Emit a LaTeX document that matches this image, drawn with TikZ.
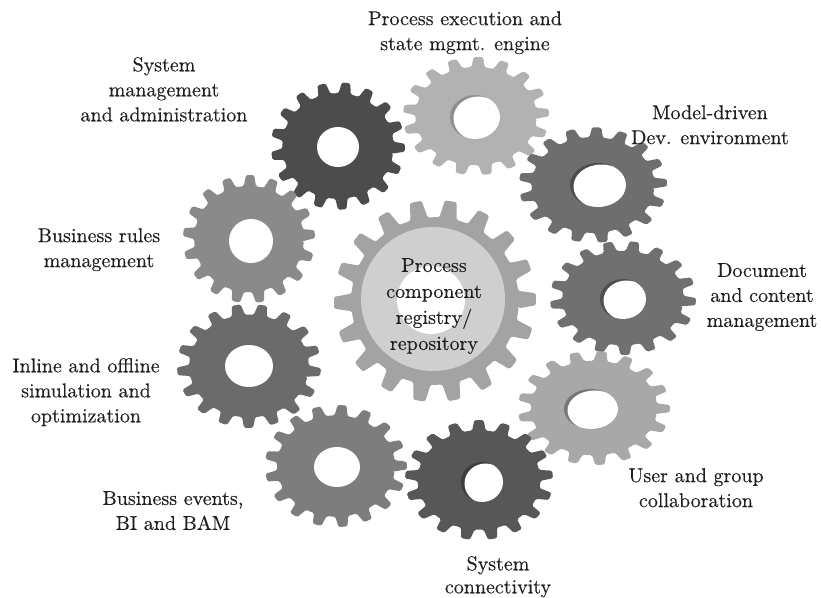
\documentclass[tikz,border=0pt]{standalone}
\usepackage{fontspec}
\newfontfamily\lblfont{lmroman10-regular.otf}[FakeBold=0.3]
\begin{document}
\definecolor{cCenter}{gray}{0.64}
\definecolor{cRing}{gray}{0.81}
\definecolor{cTop}{gray}{0.70}
\definecolor{cAdmin}{gray}{0.30}
\definecolor{cRules}{gray}{0.54}
\definecolor{cInline}{gray}{0.42}
\definecolor{cEvents}{gray}{0.49}
\definecolor{cConnect}{gray}{0.34}
\definecolor{cUser}{gray}{0.66}
\definecolor{cDoc}{gray}{0.44}
\definecolor{cModel}{gray}{0.43}
% gear outline: #1 cx, #2 cy, #3 tip radius, #4 vertical ratio, #5 teeth, #6 phase, #7 colour
\newcommand{\cogwheel}[7]{%
  \begin{scope}[shift={(#1,#2)}, yscale=#4]
    \pgfmathsetmacro{\cogP}{360/#5}
    \pgfmathsetmacro{\cogR}{0.83*#3}
    \fill[#7, rounded corners=1.5pt] (#6:\cogR)
      \foreach \k in {1,...,#5} {
        -- ({#6+(\k-1)*\cogP+0.20*\cogP}:\cogR)
        -- ({#6+(\k-1)*\cogP+0.40*\cogP}:\cogR)
        -- ({#6+(\k-1)*\cogP+0.53*\cogP}:#3)
        -- ({#6+(\k-1)*\cogP+0.70*\cogP}:#3)
        -- ({#6+(\k-1)*\cogP+0.87*\cogP}:#3)
        -- ({#6+\k*\cogP}:\cogR)
      } -- cycle;
  \end{scope}}
% flat hole: #1 cx, #2 cy, #3 x radius, #4 y radius
\newcommand{\flathole}[4]{%
  \fill[white] (#1,#2) ellipse [x radius=#3, y radius=#4];}
% tilted hole showing a thin inner wall: #5 wall colour
\newcommand{\wallhole}[5]{%
  \begin{scope}
    \clip (#1,#2) ellipse [x radius=#3, y radius=#4];
    \fill[#5] (#1,#2) ellipse [x radius=#3+1, y radius=#4+1];
    \fill[white] (#1+3.5,#2+1.5) ellipse [x radius=#3, y radius=#4];
  \end{scope}}
\begin{tikzpicture}[x=1pt,y=-1pt,
  lbl/.style={font=\lblfont\fontsize{20}{25}\selectfont, align=center, anchor=north,
              inner sep=0pt, text=black!88}]
\useasboundingbox (0,0) rectangle (821,597);

% central gear with its light ring
\cogwheel{435}{301}{101}{1}{18}{5}{cCenter}
\fill[cRing] (433,299) circle [radius=72];
\fill[white] (431,300) circle [radius=34];
\coordinate (hub) at (435,301);

% surrounding gears, back to front
\cogwheel{476}{116}{73}{0.81}{17}{3}{cTop}
\wallhole{475}{117}{25}{22}{cTop!80!black}
\cogwheel{338}{146}{67}{0.95}{17}{8}{cAdmin}
\flathole{338}{147}{21}{20}
\cogwheel{249}{239}{66}{0.97}{17}{2}{cRules}
\flathole{251}{241}{22}{22}
\cogwheel{249}{366}{72}{0.86}{17}{12}{cInline}
\flathole{249}{366}{24}{21}
\cogwheel{336}{466}{71}{0.86}{17}{6}{cEvents}
\flathole{337}{467}{23}{20}
\cogwheel{593}{185}{74}{0.78}{17}{4}{cModel}
\wallhole{598}{185}{28}{22}{cModel!70!black}
\cogwheel{623}{298}{73}{0.78}{17}{10}{cDoc}
\wallhole{623}{299}{23}{20}{cDoc!70!black}
\cogwheel{594}{408}{76}{0.75}{17}{7}{cUser}
\wallhole{591}{409}{27}{20}{cUser!70!black}
\cogwheel{479}{480}{74}{0.81}{17}{1}{cConnect}
\wallhole{482}{482}{21}{20}{cConnect!70!black}

% labels
\node[lbl] (exec) at (465,11) {Process execution and\\state mgmt. engine};
\node[lbl] (admin) at (164,57) {System\\management\\and administration};
\node[lbl] (model) at (710,105) {Model-driven\\Dev. environment};
\node[lbl] (rules) at (99,228) {Business rules\\management};
\node[lbl] (docs) at (762,263) {Document\\and content\\management};
\node[lbl] (sim) at (86,358) {Inline and offline\\simulation and\\optimization};
\node[lbl] (collab) at (696,468) {User and group\\collaboration};
\node[lbl] (bam) at (173,491) {Business events,\\BI and BAM};
\node[lbl, font=\lblfont\fontsize{20}{23}\selectfont] (conn) at (498,556) {System\\connectivity};
\node[lbl, font=\lblfont\fontsize{20}{26}\selectfont] (registry) at (434,258)
  {Process\\component\\registry/\\repository};
\end{tikzpicture}
\end{document}
